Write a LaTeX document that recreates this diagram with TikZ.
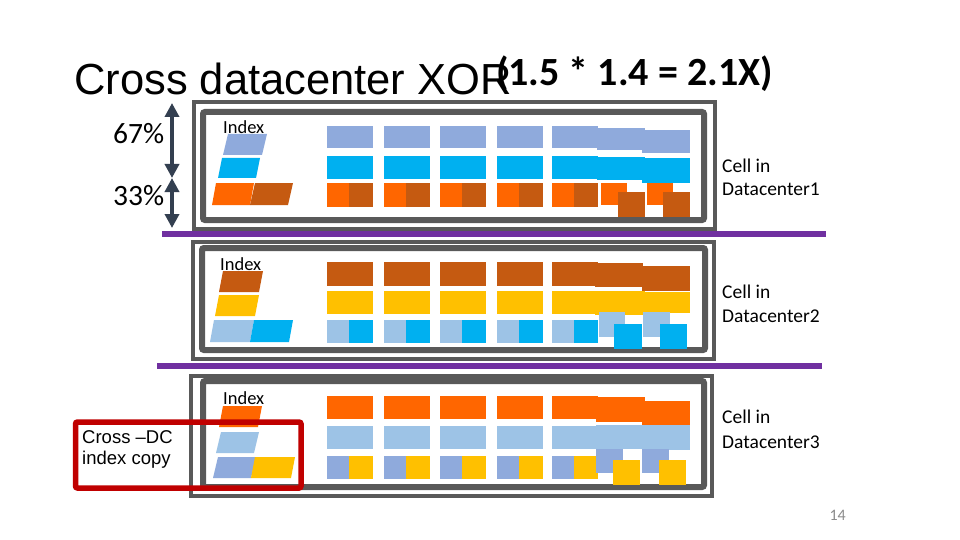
\documentclass[tikz,border=0pt]{standalone}
\usepackage{fontspec}
\setmainfont{Carlito}
\newfontfamily\arialf{Liberation Sans}
\usetikzlibrary{arrows.meta}
\definecolor{steel}{HTML}{8FAADC}
\definecolor{cyanc}{HTML}{00B0F0}
\definecolor{orangec}{HTML}{FF6600}
\definecolor{darkor}{HTML}{C55A11}
\definecolor{goldc}{HTML}{FFC000}
\definecolor{lightb}{HTML}{9DC3E6}
\definecolor{framec}{HTML}{595959}
\definecolor{purplec}{HTML}{7030A0}
\definecolor{arrowc}{HTML}{333F50}
\definecolor{redc}{HTML}{C00000}
\definecolor{pagec}{HTML}{8C8C8C}
\tikzset{
  outerframe/.style={draw=framec, line width=4pt, fill=white},
  innerframe/.style={draw=framec, line width=6pt, rounded corners=2pt},
  sepline/.style={draw=purplec, line width=6pt},
  lbl/.style={anchor=base west, inner sep=0pt, font=\fontsize{19.5}{23}\selectfont},
  idx/.style={anchor=base west, inner sep=0pt, font=\fontsize{18.5}{22}\selectfont},
  pct/.style={anchor=base west, inner sep=0pt, font=\fontsize{29.5}{33}\selectfont},
  dblarrow/.style={draw=arrowc, line width=3.5pt, {Triangle[width=14pt,length=14pt]}-{Triangle[width=14pt,length=14pt]}},
}
\newcommand\rowcells[3]{% color, ytop, ybot
  \foreach \cx in {327,384,440,497,552} {\fill[#1] (\cx,#2) rectangle ++(46,#3-#2);}}
\newcommand\splitcells[4]{% color1, color2, ytop, ybot
  \foreach \cx in {327,384,440,497,552} {\fill[#1] (\cx,#3) rectangle ++(22,#4-#3);
    \fill[#2] (\cx+22,#3) rectangle ++(24,#4-#3);}}
\newcommand\para[6]{% color, ytop, ybot, xbl, xbr, shift
  \fill[#1] (#4,#3) -- (#5,#3) -- (#5+#6,#2) -- (#4+#6,#2) -- cycle;}
\begin{document}
\begin{tikzpicture}[x=1pt,y=-1pt]
\useasboundingbox[fill=white] (0,0) rectangle (960,540);

% title
\node[anchor=base west, inner sep=0pt, font=\arialf\fontsize{43.5}{48}\selectfont] (title) at (74,95) {Cross datacenter XOR};
\node[anchor=base west, inner sep=0pt, font=\bfseries\fontsize{40}{44}\selectfont] (factor) at (496,86) {(1.5 * 1.4 = 2.1X)};

% ---------- panel 1 ----------
\draw[outerframe] (194,102) rectangle (715,229);
\draw[innerframe] (203,112) rectangle (704,220);
\rowcells{steel}{126}{148}
\rowcells{cyanc}{156}{179}
\splitcells{orangec}{darkor}{183}{207}
\fill[steel] (597,128) rectangle (645,150);
\fill[steel] (642,130) rectangle (690,153);
\fill[cyanc] (597,157) rectangle (645,180);
\fill[cyanc] (642,158) rectangle (690,183);
\fill[orangec] (601,183) rectangle (627,205);
\fill[darkor] (618,192) rectangle (645,217);
\fill[orangec] (647,183) rectangle (673,205);
\fill[darkor] (663,192) rectangle (690,217);
\para{steel}{134}{155}{223}{262}{5}
\para{cyanc}{158}{178}{218}{256}{4}
\para{orangec}{183}{205}{212}{250}{4}
\para{darkor}{183}{205}{250}{288}{5}
\node[idx] (idx1) at (223,134) {Index};
\node[lbl] (c1a) at (722,172) {Cell in};
\node[lbl] (c1b) at (722,195) {Datacenter1};

% separator 1
\coordinate (s1a) at (162,234);
\coordinate (s1b) at (826,234);
\draw[sepline] (s1a) -- (s1b);

% ---------- panel 2 ----------
\draw[outerframe] (193,242) rectangle (714,359);
\draw[innerframe] (202,248) rectangle (705,350);
\rowcells{darkor}{262}{286}
\rowcells{goldc}{291}{314}
\splitcells{lightb}{cyanc}{320}{343}
\fill[darkor] (595,263) rectangle (643,287);
\fill[darkor] (642,266) rectangle (690,291);
\fill[goldc] (595,291) rectangle (645,315);
\fill[goldc] (642,292) rectangle (690,313);
\fill[lightb] (599,312) rectangle (625,337);
\fill[cyanc] (614,324) rectangle (642,349);
\fill[lightb] (643,312) rectangle (670,337);
\fill[cyanc] (660,324) rectangle (687,349);
\para{darkor}{271}{292}{219}{259}{4}
\para{goldc}{295}{316}{215}{255}{4}
\para{lightb}{320}{342}{210}{250}{4}
\para{cyanc}{320}{342}{250}{289}{4}
\node[idx] (idx2) at (220,270) {Index};
\node[lbl] (c2a) at (722,298) {Cell in};
\node[lbl] (c2b) at (722,322) {Datacenter2};

% separator 2
\coordinate (s2a) at (157,366);
\coordinate (s2b) at (822,366);
\draw[sepline] (s2a) -- (s2b);

% ---------- panel 3 ----------
\draw[outerframe] (191,376) rectangle (712,496);
\draw[innerframe] (203,381) rectangle (704,487);
\rowcells{orangec}{396}{419}
\rowcells{lightb}{426}{449}
\splitcells{steel}{goldc}{456}{479}
\fill[orangec] (596,397) rectangle (645,422);
\fill[orangec] (642,401) rectangle (690,425);
\fill[lightb] (596,425) rectangle (645,449);
\fill[lightb] (642,425) rectangle (690,450);
\fill[steel] (596,449) rectangle (623,473);
\fill[goldc] (613,460) rectangle (640,485);
\fill[steel] (642,449) rectangle (669,473);
\fill[goldc] (659,460) rectangle (686,485);
\para{orangec}{406}{427}{219}{258}{4}
\para{lightb}{432}{453}{216}{254}{5}
\para{steel}{457}{478}{213}{251}{5}
\para{goldc}{457}{478}{251}{291}{4}
\node[idx] (idx3) at (223,404) {Index};
\node[lbl] (c3a) at (722,423) {Cell in};
\node[lbl] (c3b) at (722,448) {Datacenter3};

% red highlight box
\draw[draw=redc, line width=5.5pt, rounded corners=2pt] (75.5,422) rectangle (301,488);
\node[anchor=base west, inner sep=0pt, font=\arialf\fontsize{18.5}{22}\selectfont] (xdc1) at (82,443) {Cross –DC};
\node[anchor=base west, inner sep=0pt, font=\arialf\fontsize{18.5}{22}\selectfont] (xdc2) at (82,464) {index copy};

% percentages and arrows
\node[pct] (p67) at (113,144) {67\%};
\node[pct] (p33) at (113,205) {33\%};
\coordinate (ar1) at (172,103);
\coordinate (ar2) at (172,178);
\coordinate (ar3) at (172,228);
\draw[dblarrow] (ar1) -- (ar2);
\draw[dblarrow] (ar2) -- (ar3);

% page number
\node[anchor=base east, inner sep=0pt, text=pagec, font=\fontsize{16}{19}\selectfont] (pg) at (846,520) {14};
\end{tikzpicture}
\end{document}
